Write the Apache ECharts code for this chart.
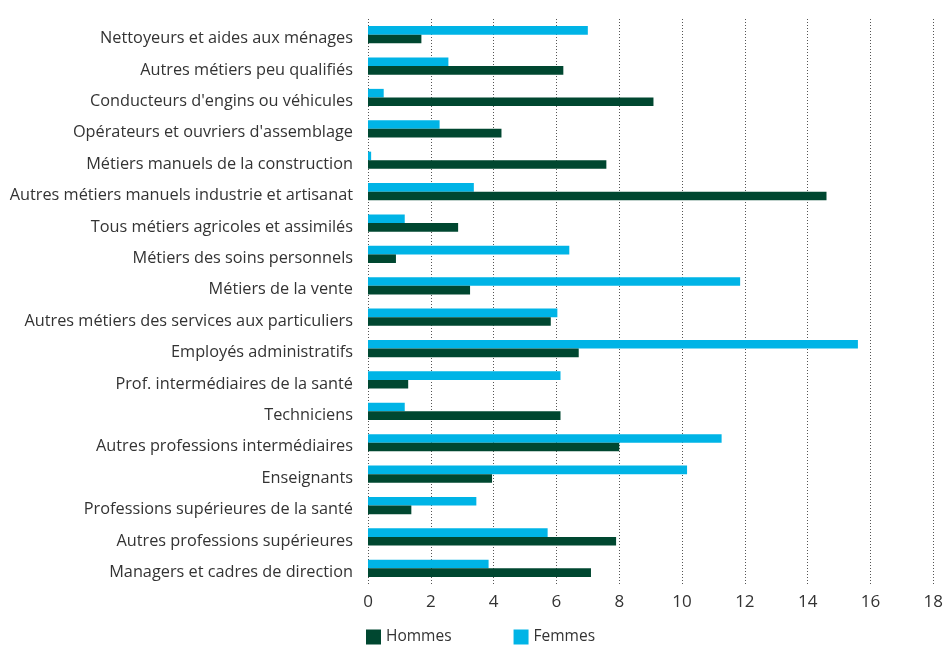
<!DOCTYPE html>
<html>
<head>
<meta charset="utf-8">
<script src="https://cdn.jsdelivr.net/npm/echarts@6/dist/echarts.min.js"></script>
<style>html,body{margin:0;padding:0;background:#fff;}#c{width:946px;height:646px;}</style>
</head>
<body>
<div id="c"></div>
<script>
// Categories, bottom to top
var categories = [
  "Managers et cadres de direction",
  "Autres professions supérieures",
  "Professions supérieures de la santé",
  "Enseignants",
  "Autres professions intermédiaires",
  "Techniciens",
  "Prof. intermédiaires de la santé",
  "Employés administratifs",
  "Autres métiers des services aux particuliers",
  "Métiers de la vente",
  "Métiers des soins personnels",
  "Tous métiers agricoles et assimilés",
  "Autres métiers manuels industrie et artisanat",
  "Métiers manuels de la construction",
  "Opérateurs et ouvriers d'assemblage",
  "Conducteurs d'engins ou véhicules",
  "Autres métiers peu qualifiés",
  "Nettoyeurs et aides aux ménages"
];
var hommes = [7.1, 7.9, 1.38, 3.95, 8.0, 6.13, 1.28, 6.71, 5.82, 3.25, 0.89, 2.87, 14.6, 7.59, 4.25, 9.09, 6.22, 1.7];
var femmes = [3.84, 5.72, 3.45, 10.16, 11.26, 1.17, 6.13, 15.6, 6.03, 11.85, 6.41, 1.17, 3.37, 0.1, 2.28, 0.5, 2.56, 7.0];
var xTicks = [0, 2, 4, 6, 8, 10, 12, 14, 16, 18];
var seriesNames = ["Hommes", "Femmes"];

var chart = echarts.init(document.getElementById('c'), null, {renderer: 'canvas'});
var font = "'Open Sans', sans-serif";
chart.setOption({
  animation: false,
  backgroundColor: '#ffffff',
  textStyle: {fontFamily: font},
  grid: {left: 368, right: 11, top: 19, bottom: 62, containLabel: false},
  legend: {
    data: seriesNames,
    left: 366, top: 629, padding: 0,
    itemWidth: 15, itemHeight: 15, itemGap: 62,
    icon: 'rect',
    itemStyle: {borderWidth: 0},
    textStyle: {fontSize: 15.5, color: '#333', fontFamily: font}
  },
  xAxis: {
    type: 'value', min: xTicks[0], max: xTicks[xTicks.length - 1], interval: 2,
    axisLine: {show: false}, axisTick: {show: false},
    axisLabel: {fontSize: 17, color: '#333', margin: 10, fontFamily: font},
    splitLine: {show: true, lineStyle: {type: [1, 2], color: '#555', width: 1}}
  },
  yAxis: {
    type: 'category', data: categories,
    axisLine: {show: false}, axisTick: {show: false},
    axisLabel: {
      margin: 15,
      formatter: function (v) { return '{a|' + v + '}'; },
      rich: {a: {fontSize: 16.3, color: '#333', fontFamily: font, padding: [8, 0, 0, 0]}}
    }
  },
  series: [
    {name: seriesNames[1], type: 'bar', data: femmes, barWidth: 8.6, barGap: '0%',
     itemStyle: {color: '#00B4E6'}},
    {name: seriesNames[0], type: 'bar', data: hommes, barWidth: 8.6, barGap: '0%',
     itemStyle: {color: '#004730'}}
  ]
});
</script>
</body>
</html>
